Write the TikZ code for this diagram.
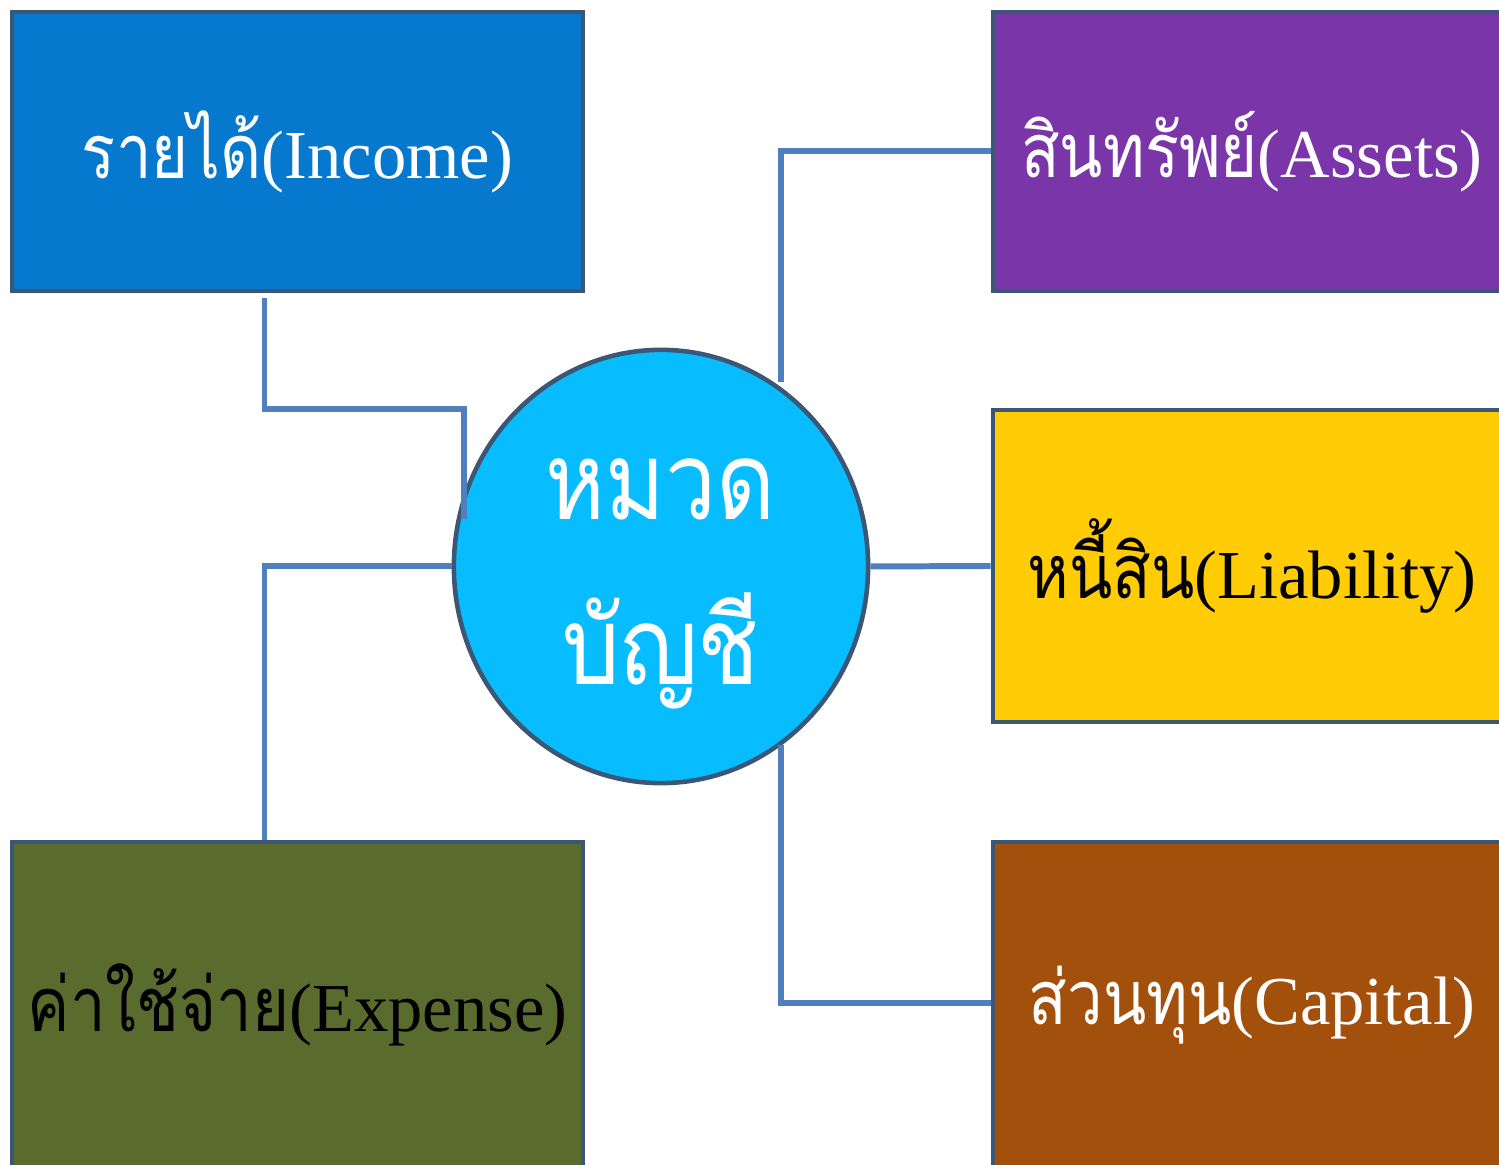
\documentclass[tikz,border=0pt]{standalone}
\usepackage{fontspec}
\setmainfont{Liberation Serif}
\newfontfamily\thaifont[Script=Thai,Scale=1.1,FakeStretch=0.84]{Loma}
\usepackage{xcolor}
\usetikzlibrary{calc,shapes.geometric}
\definecolor{incomeblue}{HTML}{0679CF}
\definecolor{assetpurple}{HTML}{7A36A8}
\definecolor{debtyellow}{HTML}{FFCC05}
\definecolor{capitalbrown}{HTML}{A3500C}
\definecolor{expenseolive}{HTML}{5A6B2E}
\definecolor{hubcyan}{HTML}{08BDFF}
\definecolor{edgenavy}{HTML}{3B5775}
\definecolor{linkblue}{HTML}{4F7FBD}

\begin{document}
\begin{tikzpicture}[x=0.01cm,y=-0.01cm,line join=miter,
  catbox/.style={draw=edgenavy,fill=#1,line width=1.3pt,inner sep=0pt,
    minimum width=5.71cm,minimum height=2.79cm,
    font=\fontsize{19.5}{24}\selectfont},
  link/.style={draw=linkblue,line width=1.7pt}]
% page frame (the right boxes run off the page)
\useasboundingbox (0,0) rectangle (1499,1165);
\clip (0,0) rectangle (1499,1165);

% left boxes
\node[catbox=incomeblue,text=white] (income) at (297.5,151.5)
  {\raisebox{1pt}{{\thaifont รายได้}(Income)}};
\node[catbox=expenseolive,minimum height=3.26cm] (expense) at (297.5,1005)
  {\raisebox{1pt}{{\thaifont ค่าใช้จ่าย}(Expense)}};
% right boxes
\node[catbox=assetpurple,text=white,minimum width=5.18cm] (assets) at (1252,151.5)
  {\raisebox{1pt}{{\thaifont สินทรัพย์}(Assets)}};
\node[catbox=debtyellow,minimum width=5.18cm,minimum height=3.12cm] (liability) at (1252,566)
  {\raisebox{1pt}{{\thaifont หนี้สิน}(Liability)}};
\node[catbox=capitalbrown,text=white,minimum width=5.18cm,minimum height=3.26cm] (capital) at (1252,1005)
  {\raisebox{1pt}{{\thaifont ส่วนทุน}(Capital)}};

% centre
\node[ellipse,draw=edgenavy,fill=hubcyan,line width=1.3pt,inner sep=0pt,
  minimum width=4.14cm,minimum height=4.33cm] (hub) at (661,566.5) {};
\node[text=white,align=center,font=\thaifont\fontsize{28}{47}\selectfont] (hub-label)
  at (661,584) {หมวด\\บัญชี};

% connectors
\coordinate (inc-turn) at (464,409);
\coordinate (ast-foot) at (781,382);
\coordinate (cap-foot) at (781,745);
\draw[link] ($(income.south)+(-33,5)$) |- (inc-turn) -- (inc-turn |- hub.167);
\draw[link] (ast-foot) |- (assets.west);
\draw[link] (hub.east) -- (liability.west);
\draw[link] (cap-foot) |- ($(capital.west)+(0,-2)$);
\draw[link] (hub.west) -| ($(expense.north)+(-33,0)$);
\end{tikzpicture}
\end{document}
